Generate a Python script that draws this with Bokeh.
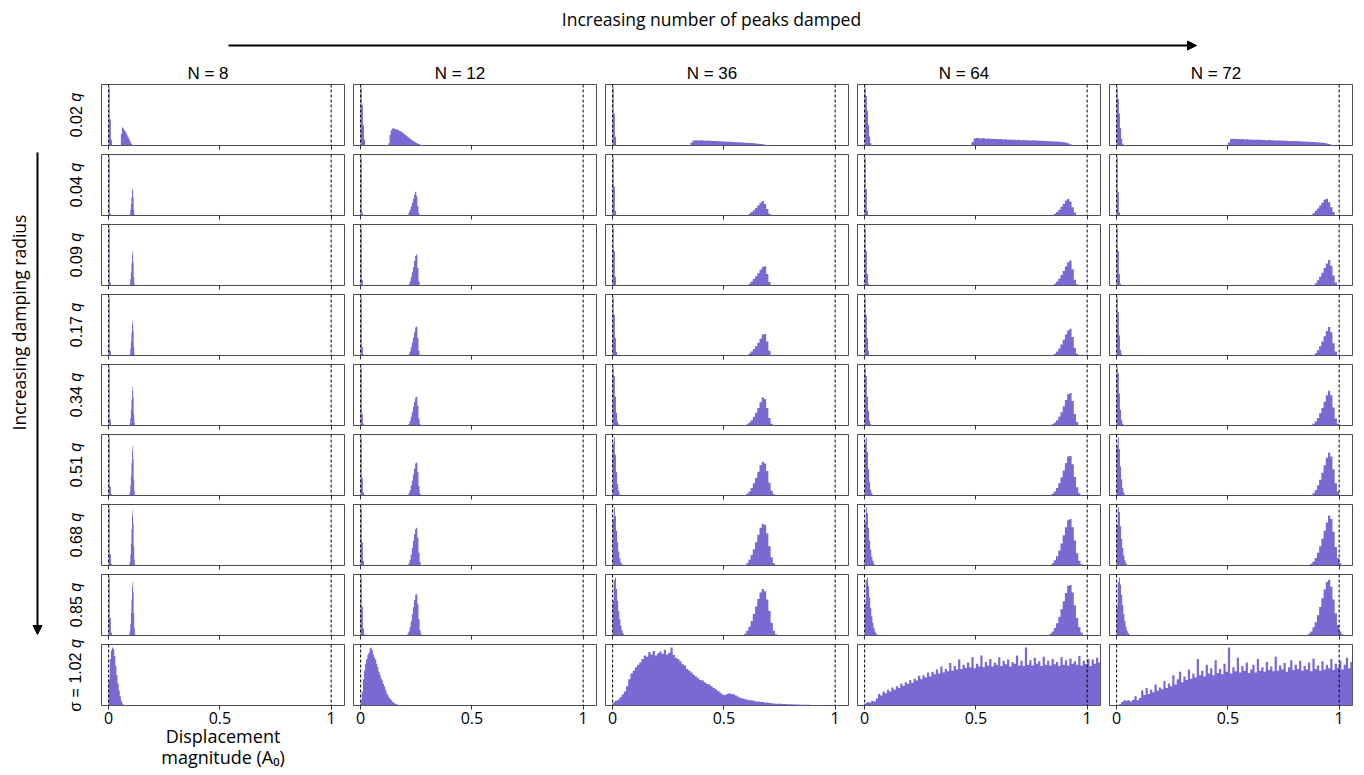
import math
from bokeh.plotting import figure
from bokeh.layouts import row, column
from bokeh.models import Range1d, Span, FixedTicker, Arrow, NormalHead, Title
from bokeh.core.properties import value
from bokeh.embed import file_html
from bokeh.resources import INLINE

# ---------------- data ----------------
N_VALUES = [8, 12, 36, 64, 72]
RADII = ["0.02", "0.04", "0.09", "0.17", "0.34", "0.51", "0.68", "0.85", "1.02"]
LAST_PREFIX = "\u03c3 = "
X_TICKS = [0, 0.5, 1]
TICK_LABELS = ["0", "0.5", "1"]
GUIDE_LINES = [0, 1]
TOP_TEXT = "Increasing number of peaks damped"
LEFT_TEXT = "Increasing damping radius"
X_LABEL = ["Displacement", "magnitude (A\u2080)"]

SPIKE_DX = 0.005  # bin width of the population near zero (rows 1-8)

# ---- N = 8 ----
N8_SPIKES = [
    [1.0, 0.45, 0.1],
    [1.0, 0.03],
    [1.0, 0.05],
    [1.0, 0.08],
    [1.0, 0.1],
    [1.0, 0.15, 0.02],
    [1.0, 0.2, 0.03],
    [1.0, 0.3, 0.05],
]
N8_PEAK_X0 = [0.055, 0.095, 0.095, 0.095, 0.0925, 0.0925, 0.0925, 0.09]
N8_PEAK_DX = [0.005, 0.0025, 0.0025, 0.0025, 0.0025, 0.0025, 0.0025, 0.0025]
N8_PEAKS = [
    [0.20, 0.31, 0.29, 0.26, 0.23, 0.19, 0.15, 0.11, 0.07, 0.03, 0.01],
    [0.03, 0.10, 0.20, 0.32, 0.43, 0.46, 0.30, 0.10, 0.02],
    [0.03, 0.11, 0.23, 0.38, 0.53, 0.59, 0.40, 0.14, 0.03],
    [0.03, 0.12, 0.24, 0.39, 0.54, 0.60, 0.42, 0.15, 0.03],
    [0.01, 0.04, 0.13, 0.27, 0.44, 0.60, 0.67, 0.48, 0.19, 0.05, 0.01],
    [0.02, 0.06, 0.17, 0.34, 0.56, 0.77, 0.85, 0.62, 0.27, 0.08, 0.01],
    [0.02, 0.07, 0.19, 0.38, 0.62, 0.86, 0.95, 0.71, 0.33, 0.10, 0.02],
    [0.01, 0.03, 0.08, 0.20, 0.39, 0.62, 0.84, 0.92, 0.74, 0.38, 0.13, 0.03],
]
N8_LAST_DX = 0.005
N8_LAST = [0.45, 0.80, 0.95, 1.0, 0.97, 0.85, 0.68, 0.52, 0.38, 0.26, 0.16, 0.08, 0.04, 0.015]

# ---- N = 12 ----
N12_SPIKES = [
    [1.0, 0.7, 0.35, 0.1],
    [1.0, 0.05],
    [1.0, 0.1],
    [1.0, 0.15, 0.02],
    [1.0, 0.2, 0.03],
    [1.0, 0.3, 0.05],
    [1.0, 0.4, 0.08],
    [1.0, 0.5, 0.12, 0.02],
]
N12_PEAK_X0 = [0.125, 0.21, 0.215, 0.215, 0.21, 0.21, 0.21, 0.205]
N12_PEAK_DX = [0.005, 0.005, 0.005, 0.005, 0.005, 0.005, 0.005, 0.005]
N12_PEAKS = [
    [0.04, 0.18, 0.26, 0.29, 0.30, 0.29, 0.28, 0.28, 0.27, 0.26, 0.25, 0.24, 0.225, 0.21,
     0.195, 0.18, 0.165, 0.15, 0.135, 0.12, 0.105, 0.09, 0.077, 0.065, 0.055, 0.045,
     0.035, 0.025, 0.015, 0.008, 0.003],
    [0.01, 0.05, 0.10, 0.16, 0.22, 0.29, 0.36, 0.41, 0.33, 0.16, 0.04],
    [0.02, 0.07, 0.14, 0.23, 0.32, 0.42, 0.51, 0.54, 0.30, 0.07],
    [0.02, 0.07, 0.14, 0.22, 0.31, 0.40, 0.48, 0.50, 0.30, 0.08],
    [0.01, 0.03, 0.08, 0.15, 0.23, 0.32, 0.41, 0.48, 0.50, 0.34, 0.12, 0.02],
    [0.01, 0.04, 0.09, 0.17, 0.26, 0.36, 0.46, 0.55, 0.57, 0.40, 0.16, 0.03],
    [0.01, 0.04, 0.10, 0.19, 0.30, 0.42, 0.54, 0.63, 0.65, 0.48, 0.22, 0.06, 0.01],
    [0.01, 0.03, 0.07, 0.14, 0.24, 0.36, 0.49, 0.61, 0.70, 0.71, 0.54, 0.28, 0.09, 0.02],
]
N12_LAST_DX = 0.005
N12_LAST = [0.08, 0.23, 0.45, 0.60, 0.72, 0.80, 0.87, 0.91, 0.98, 1.0, 0.95, 0.88, 0.83,
            0.79, 0.72, 0.66, 0.58, 0.53, 0.47, 0.43, 0.37, 0.33, 0.27, 0.22, 0.18, 0.14,
            0.12, 0.10, 0.07, 0.05, 0.04, 0.03, 0.02, 0.015, 0.01, 0.005]

# ---- N = 36 ----
N36_SPIKES = [
    [1.0, 0.55, 0.15],
    [1.0, 0.5, 0.08],
    [1.0, 0.6, 0.15],
    [1.0, 0.7, 0.3, 0.06],
    [1.0, 0.85, 0.5, 0.22, 0.07, 0.02],
    [0.9, 1.0, 0.7, 0.4, 0.2, 0.08, 0.02],
    [0.8, 1.0, 0.85, 0.6, 0.4, 0.24, 0.12, 0.05, 0.02],
    [0.6, 0.95, 1.0, 0.8, 0.6, 0.42, 0.28, 0.17, 0.09, 0.04, 0.015, 0.005],
]
N36_PEAK_X0 = [0.35, 0.60, 0.60, 0.60, 0.59, 0.59, 0.59, 0.58]
N36_PEAK_DX = [0.01, 0.01, 0.01, 0.01, 0.01, 0.01, 0.01, 0.01]
N36_PEAKS = [
    [0.05, 0.085, 0.09, 0.087, 0.089, 0.085, 0.083, 0.084, 0.08, 0.079, 0.076, 0.077,
     0.073, 0.072, 0.069, 0.068, 0.065, 0.064, 0.061, 0.06, 0.057, 0.056, 0.053, 0.052,
     0.049, 0.048, 0.045, 0.043, 0.04, 0.036, 0.032, 0.027, 0.021, 0.014, 0.007],
    [0.01, 0.03, 0.06, 0.09, 0.13, 0.17, 0.22, 0.25, 0.20, 0.11, 0.03],
    [0.01, 0.03, 0.07, 0.11, 0.16, 0.21, 0.27, 0.32, 0.33, 0.20, 0.06, 0.01],
    [0.01, 0.03, 0.07, 0.11, 0.16, 0.22, 0.29, 0.36, 0.37, 0.24, 0.08, 0.01],
    [0.01, 0.02, 0.05, 0.09, 0.15, 0.22, 0.30, 0.40, 0.48, 0.45, 0.30, 0.13, 0.03],
    [0.01, 0.03, 0.07, 0.13, 0.21, 0.30, 0.41, 0.52, 0.58, 0.55, 0.42, 0.22, 0.08, 0.02],
    [0.01, 0.04, 0.10, 0.18, 0.28, 0.40, 0.53, 0.65, 0.72, 0.70, 0.55, 0.33, 0.14, 0.04],
    [0.01, 0.03, 0.08, 0.15, 0.25, 0.37, 0.50, 0.63, 0.74, 0.80, 0.76, 0.62, 0.42, 0.22,
     0.08, 0.02],
]
N36_LAST_DX = 0.01
N36_LAST = [
    0.05, 0.08, 0.10, 0.14, 0.19, 0.24, 0.33, 0.45, 0.55, 0.60,
    0.66, 0.70, 0.74, 0.80, 0.86, 0.84, 0.92, 0.88, 0.94, 0.86,
    0.90, 0.93, 0.89, 0.96, 0.88, 0.91, 1.00, 0.87, 0.82, 0.80,
    0.76, 0.71, 0.69, 0.63, 0.60, 0.57, 0.53, 0.50, 0.47, 0.44,
    0.43, 0.40, 0.37, 0.36, 0.33, 0.30, 0.28, 0.25, 0.22, 0.19,
    0.18, 0.20, 0.21, 0.20, 0.19, 0.17, 0.15, 0.13, 0.12, 0.11,
    0.10, 0.09, 0.09, 0.08, 0.07, 0.07, 0.06, 0.06, 0.05, 0.05,
    0.045, 0.04, 0.035, 0.03, 0.03, 0.028, 0.026, 0.024, 0.022, 0.02,
    0.02, 0.018, 0.018, 0.016, 0.015, 0.014, 0.013, 0.012, 0.011, 0.01,
    0.01, 0.009, 0.008, 0.007, 0.007, 0.006, 0.005, 0.005, 0.004, 0.004,
    0.003, 0.003, 0.002, 0.002, 0.002, 0.001,
]

# ---- N = 64 ----
N64_SPIKES = [
    [1.0, 0.85, 0.6, 0.35, 0.15, 0.04],
    [1.0, 0.45, 0.08],
    [1.0, 0.6, 0.2, 0.03],
    [1.0, 0.7, 0.3, 0.08],
    [1.0, 0.85, 0.5, 0.25, 0.08, 0.02],
    [0.9, 1.0, 0.75, 0.45, 0.23, 0.1, 0.04, 0.01],
    [0.75, 1.0, 0.9, 0.65, 0.43, 0.27, 0.15, 0.08, 0.03, 0.01],
    [0.55, 0.95, 1.0, 0.85, 0.65, 0.47, 0.33, 0.22, 0.13, 0.07, 0.03, 0.015, 0.005],
]
N64_PEAK_X0 = [0.48, 0.84, 0.84, 0.84, 0.83, 0.83, 0.83, 0.82]
N64_PEAK_DX = [0.01, 0.01, 0.01, 0.01, 0.01, 0.01, 0.01, 0.01]
N64_PEAKS = [
    [0.06, 0.12, 0.13, 0.125, 0.12, 0.128, 0.118, 0.12, 0.115, 0.117, 0.11, 0.113, 0.108,
     0.11, 0.104, 0.106, 0.1, 0.103, 0.098, 0.1, 0.095, 0.097, 0.092, 0.094, 0.09, 0.091,
     0.087, 0.089, 0.084, 0.086, 0.081, 0.082, 0.078, 0.079, 0.075, 0.074, 0.071, 0.07,
     0.067, 0.065, 0.062, 0.058, 0.05, 0.038, 0.022, 0.008],
    [0.01, 0.03, 0.06, 0.10, 0.15, 0.20, 0.26, 0.29, 0.24, 0.14, 0.05, 0.01],
    [0.01, 0.03, 0.07, 0.12, 0.18, 0.25, 0.33, 0.40, 0.43, 0.28, 0.10, 0.02],
    [0.01, 0.03, 0.07, 0.12, 0.19, 0.27, 0.36, 0.43, 0.46, 0.32, 0.13, 0.03],
    [0.01, 0.02, 0.05, 0.09, 0.15, 0.23, 0.33, 0.44, 0.54, 0.56, 0.42, 0.20, 0.06, 0.01],
    [0.01, 0.03, 0.07, 0.13, 0.21, 0.31, 0.43, 0.56, 0.67, 0.68, 0.54, 0.32, 0.14, 0.04, 0.01],
    [0.01, 0.04, 0.09, 0.16, 0.26, 0.38, 0.52, 0.66, 0.78, 0.80, 0.66, 0.43, 0.21, 0.08, 0.02],
    [0.01, 0.03, 0.07, 0.13, 0.21, 0.32, 0.45, 0.59, 0.73, 0.85, 0.87, 0.74, 0.52, 0.30,
     0.14, 0.05, 0.01],
]
N64_LAST_DX = 0.01
N64_LAST = [
    0.04, 0.06, 0.05, 0.08, 0.07, 0.12, 0.20, 0.17, 0.24, 0.21,
    0.27, 0.24, 0.31, 0.27, 0.33, 0.30, 0.38, 0.34, 0.40, 0.37,
    0.44, 0.39, 0.46, 0.43, 0.51, 0.45, 0.52, 0.48, 0.57, 0.50,
    0.58, 0.54, 0.62, 0.55, 0.67, 0.57, 0.63, 0.59, 0.73, 0.60,
    0.68, 0.62, 0.79, 0.63, 0.70, 0.65, 0.74, 0.66, 0.83, 0.64,
    0.72, 0.67, 0.86, 0.66, 0.75, 0.69, 0.80, 0.67, 0.74, 0.70,
    0.83, 0.68, 0.77, 0.71, 0.79, 0.67, 0.75, 0.72, 0.86, 0.69,
    0.77, 0.68, 1.00, 0.70, 0.78, 0.69, 0.82, 0.72, 0.76, 0.68,
    0.84, 0.70, 0.77, 0.69, 0.80, 0.71, 0.75, 0.68, 0.83, 0.70,
    0.78, 0.69, 0.81, 0.72, 0.76, 0.70, 0.85, 0.69, 0.77, 0.71,
    0.80, 0.68, 0.79, 0.72, 0.82, 0.74,
]

# ---- N = 72 ----
N72_SPIKES = [
    [1.0, 0.8, 0.55, 0.3, 0.12, 0.03],
    [1.0, 0.4, 0.05],
    [1.0, 0.6, 0.2, 0.03],
    [1.0, 0.75, 0.35, 0.1, 0.02],
    [1.0, 0.9, 0.55, 0.27, 0.1, 0.03, 0.01],
    [0.85, 1.0, 0.8, 0.5, 0.28, 0.13, 0.05, 0.015],
    [0.7, 1.0, 0.92, 0.68, 0.46, 0.3, 0.17, 0.09, 0.04, 0.015, 0.005],
    [0.5, 0.92, 1.0, 0.88, 0.7, 0.52, 0.37, 0.25, 0.15, 0.08, 0.04, 0.02, 0.008, 0.003],
]
N72_PEAK_X0 = [0.50, 0.87, 0.88, 0.88, 0.87, 0.87, 0.86, 0.85]
N72_PEAK_DX = [0.01, 0.01, 0.01, 0.01, 0.01, 0.01, 0.01, 0.01]
N72_PEAKS = [
    [0.05, 0.11, 0.115, 0.11, 0.112, 0.108, 0.11, 0.105, 0.107, 0.102, 0.104, 0.1, 0.101,
     0.097, 0.099, 0.095, 0.096, 0.092, 0.093, 0.09, 0.09, 0.087, 0.088, 0.084, 0.085,
     0.081, 0.082, 0.078, 0.079, 0.075, 0.076, 0.072, 0.072, 0.069, 0.068, 0.065, 0.064,
     0.061, 0.06, 0.057, 0.055, 0.052, 0.048, 0.043, 0.035, 0.025, 0.014, 0.005],
    [0.01, 0.04, 0.08, 0.12, 0.17, 0.22, 0.27, 0.29, 0.23, 0.14, 0.06, 0.01],
    [0.01, 0.04, 0.09, 0.15, 0.22, 0.30, 0.38, 0.44, 0.34, 0.17, 0.05, 0.01],
    [0.01, 0.04, 0.09, 0.16, 0.24, 0.33, 0.42, 0.49, 0.40, 0.21, 0.07, 0.01],
    [0.01, 0.03, 0.07, 0.13, 0.21, 0.30, 0.41, 0.52, 0.60, 0.52, 0.31, 0.12, 0.03],
    [0.01, 0.04, 0.09, 0.17, 0.27, 0.39, 0.52, 0.65, 0.74, 0.67, 0.45, 0.21, 0.07, 0.01],
    [0.01, 0.03, 0.07, 0.13, 0.22, 0.33, 0.46, 0.60, 0.74, 0.86, 0.80, 0.58, 0.32, 0.13,
     0.04, 0.01],
    [0.01, 0.03, 0.07, 0.14, 0.23, 0.35, 0.49, 0.64, 0.79, 0.92, 0.96, 0.84, 0.62, 0.38,
     0.18, 0.07, 0.02, 0.01],
]
N72_LAST_DX = 0.01
N72_LAST = [
    0.0, 0.02, 0.06, 0.09, 0.08, 0.09, 0.07, 0.10, 0.16, 0.09,
    0.13, 0.26, 0.18, 0.30, 0.20, 0.27, 0.23, 0.36, 0.26, 0.31,
    0.28, 0.42, 0.30, 0.38, 0.33, 0.52, 0.36, 0.45, 0.58, 0.40,
    0.50, 0.44, 0.62, 0.46, 0.55, 0.48, 0.80, 0.52, 0.60, 0.50,
    0.70, 0.55, 0.64, 0.52, 0.78, 0.56, 0.63, 0.54, 0.72, 0.58,
    1.00, 0.55, 0.66, 0.59, 0.82, 0.57, 0.68, 0.60, 0.74, 0.56,
    0.62, 0.70, 0.57, 0.80, 0.60, 0.66, 0.58, 0.75, 0.61, 0.67,
    0.59, 0.84, 0.60, 0.69, 0.62, 0.73, 0.58, 0.66, 0.78, 0.61,
    0.70, 0.63, 0.77, 0.60, 0.68, 0.62, 0.74, 0.59, 0.81, 0.63,
    0.69, 0.60, 0.76, 0.62, 0.70, 0.64, 0.80, 0.61, 0.72, 0.65,
    0.77, 0.62, 0.70, 0.82, 0.64, 0.75,
]

# ---------------- styling / layout ----------------
PURPLE = "#7a69d2"
FRAME_COLOR = "#4d4d4d"
FRAME_W, FRAME_H = 243, 61
CELL_W, CELL_H = 252, 70
LEFT_W, TOP_H = 100, 83
PAGE_H = 774
LEFT_H = PAGE_H - TOP_H
X_MIN, X_MAX = -0.032, 1.06
Y_MAX = 1.05
SANS = "Liberation Sans"
ANNOT = "Open Sans"
TITLE_SHIFT = -15  # column headers sit a little left of the panel centres

COLUMNS = [
    (N8_SPIKES, N8_PEAK_X0, N8_PEAK_DX, N8_PEAKS, N8_LAST, N8_LAST_DX),
    (N12_SPIKES, N12_PEAK_X0, N12_PEAK_DX, N12_PEAKS, N12_LAST, N12_LAST_DX),
    (N36_SPIKES, N36_PEAK_X0, N36_PEAK_DX, N36_PEAKS, N36_LAST, N36_LAST_DX),
    (N64_SPIKES, N64_PEAK_X0, N64_PEAK_DX, N64_PEAKS, N64_LAST, N64_LAST_DX),
    (N72_SPIKES, N72_PEAK_X0, N72_PEAK_DX, N72_PEAKS, N72_LAST, N72_LAST_DX),
]


def hist_steps(x0, dx, heights):
    edges = [x0 + i * dx for i in range(len(heights) + 1)]
    tops = list(heights) + [0.0]
    return edges, tops


def make_panel(r, c):
    spikes, px0, pdx, peaks, last, last_dx = COLUMNS[c]
    n_rows = len(RADII)
    is_bottom = r == n_rows - 1
    if is_bottom:
        # the last row fills the page down to its bottom edge
        mb = PAGE_H - TOP_H - CELL_H * (n_rows - 1) - 1 - FRAME_H
    else:
        mb = CELL_H - FRAME_H - 1
    p = figure(frame_width=FRAME_W, frame_height=FRAME_H,
               x_range=Range1d(X_MIN, X_MAX), y_range=Range1d(0, Y_MAX),
               output_backend="svg", toolbar_location=None, title=None,
               y_axis_location=None, x_axis_location="below",
               min_border_left=1, min_border_right=CELL_W - FRAME_W - 1,
               min_border_top=1, min_border_bottom=mb)
    p.xgrid.visible = False
    p.ygrid.visible = False
    p.outline_line_color = FRAME_COLOR
    p.outline_line_width = 1
    p.background_fill_color = "white"
    p.border_fill_color = "white"

    if is_bottom:
        segments = [(0.0, last_dx, last)]
    else:
        segments = [(0.0, SPIKE_DX, spikes[r]), (px0[r], pdx[r], peaks[r])]
    for x0, dx, h in segments:
        xs, ys = hist_steps(x0, dx, h)
        p.varea_step(x=xs, y1=[0.0] * len(xs), y2=ys, step_mode="after",
                     fill_color=PURPLE, fill_alpha=1.0)

    for loc in GUIDE_LINES:
        p.add_layout(Span(location=loc, dimension="height", line_color="black",
                          line_dash="3 2", line_width=1))

    ax = p.xaxis[0]
    ax.ticker = FixedTicker(ticks=X_TICKS)
    ax.axis_line_color = None
    ax.major_tick_out = 4
    ax.major_tick_in = 0
    ax.minor_tick_out = 0
    ax.minor_tick_in = 0
    ax.major_tick_line_color = "#333333"
    ax.major_tick_line_width = 1
    if is_bottom:
        ax.major_label_overrides = {t: lbl for t, lbl in zip(X_TICKS, TICK_LABELS)}
        ax.major_label_text_font = ANNOT
        ax.major_label_text_font_size = "16px"
        ax.major_label_text_color = "black"
        ax.major_label_standoff = 2
        if c == 0:
            for k, line in enumerate(X_LABEL):
                p.add_layout(Title(text=line, align="center", text_font=ANNOT,
                                   text_font_size="18px", text_font_style="normal",
                                   text_color="black", standoff=(-9 if k == 0 else -2),
                                   offset=0), "below")
    else:
        # inner rows keep the tick marks only
        ax.major_label_text_font_size = "1px"
        ax.major_label_text_color = None
        ax.major_label_standoff = 0
    return p


# ---------------- top strip ----------------
top = figure(width=LEFT_W + 5 * CELL_W, height=TOP_H,
             x_range=Range1d(0, LEFT_W + 5 * CELL_W), y_range=Range1d(0, TOP_H),
             output_backend="svg", toolbar_location=None, title=None,
             x_axis_location=None, y_axis_location=None, min_border=0,
             outline_line_color=None)
top.xgrid.visible = False
top.ygrid.visible = False
top.text(x=[711], y=[TOP_H - 18], text=[TOP_TEXT], text_align="center",
         text_baseline="middle", text_font=value(ANNOT), text_font_size="17.5px",
         text_color="black")
top.add_layout(Arrow(end=NormalHead(size=9, fill_color="black", line_color="black"),
                     x_start=228, y_start=TOP_H - 45, x_end=1196, y_end=TOP_H - 45,
                     line_color="black", line_width=2))
col_x = [LEFT_W + 1 + FRAME_W / 2 + CELL_W * j + TITLE_SHIFT for j in range(len(N_VALUES))]
top.text(x=col_x, y=[TOP_H - 73] * len(N_VALUES), text=["N = %d" % n for n in N_VALUES],
         text_align="center", text_baseline="middle", text_font=value(SANS),
         text_font_size="17px", text_color="black")

# ---------------- left strip ----------------
left = figure(width=LEFT_W, height=LEFT_H, x_range=Range1d(0, LEFT_W),
              y_range=Range1d(0, LEFT_H), output_backend="svg", toolbar_location=None,
              title=None, x_axis_location=None, y_axis_location=None, min_border=0,
              outline_line_color=None)
left.xgrid.visible = False
left.ygrid.visible = False


def ly(page_y):
    return LEFT_H - (page_y - TOP_H)


left.text(x=[18], y=[ly(322)], text=[LEFT_TEXT], angle=math.pi / 2, text_align="center",
          text_baseline="middle", text_font=value(ANNOT), text_font_size="17.5px",
          text_color="black")
left.add_layout(Arrow(end=NormalHead(size=9, fill_color="black", line_color="black"),
                      x_start=37, y_start=ly(152), x_end=37, y_end=ly(634),
                      line_color="black", line_width=2))

CHAR_W = {".": 4.45, " ": 4.45, "=": 9.34, "\u03c3": 9.0}
num_txt, num_y, q_y = [], [], []
for i, rad in enumerate(RADII):
    label = (LAST_PREFIX + rad) if i == len(RADII) - 1 else rad
    w_num = sum(CHAR_W.get(ch, 8.9) for ch in label)
    total = w_num + 4.45 + 8.9
    yc = ly(TOP_H + 1 + FRAME_H / 2 + CELL_H * i)
    yj = yc - total / 2 + w_num
    num_txt.append(label)
    num_y.append(yj)
    q_y.append(yj + 4.45)
left.text(x=[75] * len(RADII), y=num_y, text=num_txt, angle=math.pi / 2,
          text_align="right", text_baseline="middle", text_font=value(SANS),
          text_font_size="16px", text_color="black")
left.text(x=[75] * len(RADII), y=q_y, text=["q"] * len(RADII), angle=math.pi / 2,
          text_align="left", text_baseline="middle", text_font=value(SANS),
          text_font_size="16px", text_font_style="italic", text_color="black")

# ---------------- grid ----------------
grid_rows = []
for r in range(len(RADII)):
    grid_rows.append(row(*[make_panel(r, c) for c in range(len(N_VALUES))]))
grid = column(*grid_rows)

layout = column(top, row(left, grid))

open("out.html", "w").write(file_html(layout, INLINE))
